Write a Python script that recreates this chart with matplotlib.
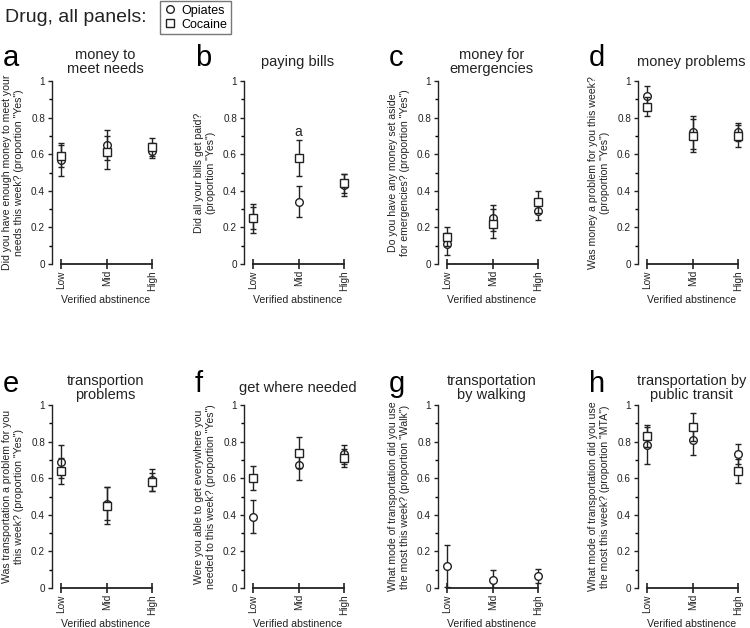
import numpy as np
import matplotlib.pyplot as plt
from matplotlib.lines import Line2D

plt.rcParams['font.family'] = ['Liberation Sans', 'DejaVu Sans']

levels = ["Low", "Mid", "High"]
letters = ["a", "b", "c", "d", "e", "f", "g", "h"]
titles = ["money to\nmeet needs", "paying bills", "money for\nemergencies", "money problems",
          "transportion\nproblems", "get where needed", "transportation\nby walking",
          "transportation by\npublic transit"]
ylabels = ['Did you have enough money to meet your\nneeds this week? (proportion "Yes")',
           'Did all your bills get paid?\n(proportion "Yes")',
           'Do you have any money set aside\nfor emergencies? (proportion "Yes")',
           'Was money a problem for you this week?\n(proportion "Yes")',
           'Was transportation a problem for you\nthis week? (proportion "Yes")',
           'Were you able to get everywhere you\nneeded to this week? (proportion "Yes")',
           'What mode of transportation did you use\nthe most this week? (proportion "Walk")',
           'What mode of transportation did you use\nthe most this week? (proportion "MTA")']

# opiates (circle) means and errors
opi_mean = [[0.57, 0.65, 0.62], [0.25, 0.34, 0.43], [0.11, 0.25, 0.29], [0.92, 0.72, 0.72],
            [0.69, 0.46, 0.59], [0.39, 0.67, 0.73], [0.12, 0.045, 0.065], [0.78, 0.81, 0.73]]
opi_err = [[0.09, 0.08, 0.04], [0.08, 0.085, 0.06], [0.06, 0.07, 0.05], [0.05, 0.09, 0.05],
           [0.09, 0.09, 0.06], [0.09, 0.08, 0.05], [0.115, 0.055, 0.04], [0.10, 0.085, 0.055]]
# cocaine (square) means and errors, no cocaine data in panel g
coc_mean = [[0.59, 0.61, 0.64], [0.25, 0.58, 0.44], [0.15, 0.22, 0.34], [0.86, 0.70, 0.70],
            [0.64, 0.45, 0.58], [0.60, 0.74, 0.71], None, [0.83, 0.88, 0.64]]
coc_err = [[0.06, 0.09, 0.05], [0.06, 0.10, 0.05], [0.05, 0.08, 0.06], [0.05, 0.09, 0.06],
           [0.07, 0.10, 0.05], [0.065, 0.085, 0.05], None, [0.06, 0.075, 0.065]]

W, H = 750, 628
fig = plt.figure(figsize=(7.5, 6.28), dpi=100)

spine_x = [52, 244, 438, 638]
row_y0 = [264, 588]   # pixel of y=0
row_y1 = [81, 405]    # pixel of y=1
title_y = [62, 388]
ax_w = 107
x = np.arange(3)
col = '#222222'

for i in range(8):
    r, c = divmod(i, 4)
    left = spine_x[c] / W
    bottom = 1 - row_y0[r] / H
    height = (row_y0[r] - row_y1[r]) / H
    ax = fig.add_axes([left, bottom, ax_w / W, height])
    ax.errorbar(x, opi_mean[i], yerr=opi_err[i], fmt='o', color=col, ms=5.5,
                mfc='white', mec=col, mew=1, elinewidth=1, capsize=2, zorder=3)
    if coc_mean[i] is not None:
        ax.errorbar(x, coc_mean[i], yerr=coc_err[i], fmt='s', color=col, ms=6.2,
                    mfc='white', mec=col, mew=1, elinewidth=1, capsize=2, zorder=4)
    ax.set_xlim(-0.2, 2.15)
    ax.set_ylim(0, 1)
    for s in ['top', 'right']:
        ax.spines[s].set_visible(False)
    ax.spines['bottom'].set_bounds(0, 2)
    ax.spines['bottom'].set_linewidth(1.3)
    ax.spines['left'].set_linewidth(1.0)
    ax.spines['bottom'].set_color(col)
    ax.spines['left'].set_color(col)
    ax.set_xticks(x)
    ax.set_xticklabels(levels, rotation=90, fontsize=7.2, color=col)
    ax.tick_params(axis='x', direction='inout', length=7, width=1.2, colors=col, pad=1)
    ax.set_yticks([0, 0.2, 0.4, 0.6, 0.8, 1.0])
    ax.set_yticklabels(["0", "0.2", "0.4", "0.6", "0.8", "1"], fontsize=7.2, color=col)
    ax.set_yticks(np.arange(0.1, 1.0, 0.2), minor=True)
    ax.tick_params(axis='y', direction='out', length=3, width=1, colors=col, pad=2)
    ax.tick_params(axis='y', which='minor', length=2, width=1)
    ax.set_xlabel("Verified abstinence", fontsize=7.6, color=col, labelpad=3)
    ax.set_ylabel(ylabels[i], fontsize=7.6, color=col, labelpad=5, linespacing=1.25)
    cx = (spine_x[c] + ax_w / 2) / W
    fig.text(cx, 1 - title_y[r] / H, titles[i], ha='center', va='center',
             fontsize=10.5, color=col, linespacing=1.05)
    fig.text((spine_x[c] - 49) / W, 1 - (title_y[r] + 4) / H, letters[i],
             ha='left', va='baseline', fontsize=21, color='black')
    if i == 1:
        ax.text(1, 0.72, "a", ha='center', va='center', fontsize=10, color=col)

fig.text(5 / W, 1 - 17 / H, "Drug, all panels:", ha='left', va='center', fontsize=14, color=col)
handles = [Line2D([], [], ls='none', marker='o', ms=5.5, mfc='white', mec=col, mew=1),
           Line2D([], [], ls='none', marker='s', ms=6.2, mfc='white', mec=col, mew=1)]
leg = fig.legend(handles, ["Opiates", "Cocaine"], loc='upper left',
                 bbox_to_anchor=(160 / W, 1 - 1 / H), fontsize=9, frameon=True,
                 fancybox=False, handlelength=1, handletextpad=0.4, borderpad=0.3,
                 labelspacing=0.15, borderaxespad=0)
leg.get_frame().set_edgecolor('#555555')
leg.get_frame().set_linewidth(1)

fig.savefig("out.png", dpi=100)
